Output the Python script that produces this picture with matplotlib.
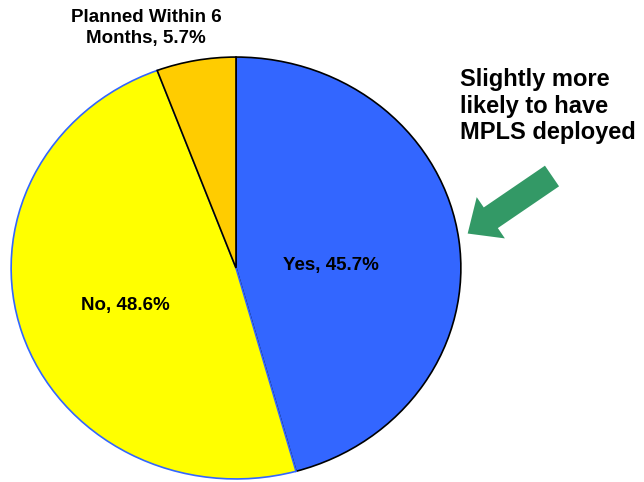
import matplotlib.pyplot as plt
import matplotlib.patches as patches

labels = ["Yes, 45.7%", "No, 48.6%", "Planned Within 6\nMonths, 5.7%"]
values = [45.7, 48.6, 5.7]
colors = ["#3366ff", "#ffff00", "#ffcc00"]
edges = ["black", "#3366ff", "black"]

fig = plt.figure(figsize=(6.44, 4.82), dpi=100)
ax = fig.add_axes([10 / 644, 2 / 482, 452 / 644, 424 / 482])

wedges, _ = ax.pie(values, colors=colors, startangle=90, counterclock=False,
                   wedgeprops=dict(linewidth=1.2))
for w, ec in zip(wedges, edges):
    w.set_edgecolor(ec)
ax.set_aspect("auto")
ax.set_xlim(-1.005, 1.005)
ax.set_ylim(-1.005, 1.005)
ax.axis("off")

font = dict(family="Liberation Sans", weight="bold")
ax.text(0.42, 0.01, labels[0], ha="center", va="center", fontsize=13.5, **font)
ax.text(-0.49, -0.177, labels[1], ha="center", va="center", fontsize=13.5, **font)
ax.text(-0.40, 1.138, labels[2], ha="center", va="center", fontsize=13.5,
        linespacing=1.3, **font)

# overlay in pixel coordinates for the callout
ov = fig.add_axes([0, 0, 1, 1])
ov.set_xlim(0, 644)
ov.set_ylim(482, 0)
ov.axis("off")
ov.text(460, 106, "Slightly more\nlikely to have\nMPLS deployed", ha="left",
        va="center", fontsize=17, linespacing=1.2, **font)
ov.add_patch(patches.FancyArrow(552, 176, -85 * 0.72, 58 * 0.72, width=25,
                                head_width=50, head_length=28,
                                length_includes_head=False,
                                color="#339966", linewidth=0))

fig.savefig("out.png", dpi=100)
